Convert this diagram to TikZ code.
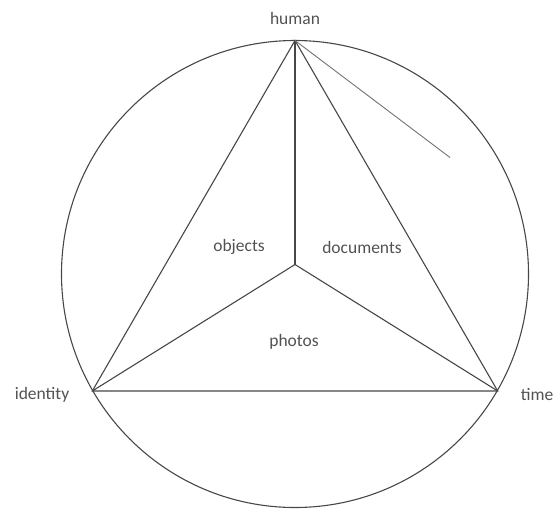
\documentclass[tikz,border=0pt]{standalone}
\usepackage{fontspec}
\setmainfont{Carlito}
\begin{document}
\begin{tikzpicture}[x=1pt,y=-1pt,
  edge/.style={draw=black!72, line width=1.1pt},
  lbl/.style={text=black!68, font=\fontsize{17.5}{20}\selectfont, inner sep=0pt}]
\useasboundingbox (0,0) rectangle (553,509);
\coordinate (c) at (295,274);
\coordinate (h) at (295,40.5);
\coordinate (i) at (92.3,391);
\coordinate (t) at (497.7,391);
\coordinate (m) at (295,264.5);
\coordinate (s) at (450,157.5);
\draw[edge] (c) circle (233.5);
\draw[edge] (h) -- (i) -- (t) -- cycle;
\draw[edge] (h) -- (m);
\draw[edge] (m) -- (i);
\draw[edge] (m) -- (t);
\draw[draw=black!55, line width=0.9pt] (h) -- (s);
\node[lbl] (nh) at (295,18) {human};
\node[lbl] (ni) at (42,395) {identity};
\node[lbl] (nt) at (537,395) {time};
\node[lbl] (no) at (239,247) {objects};
\node[lbl] (nd) at (362,247) {documents};
\node[lbl] (np) at (294,342) {photos};
\end{tikzpicture}
\end{document}
